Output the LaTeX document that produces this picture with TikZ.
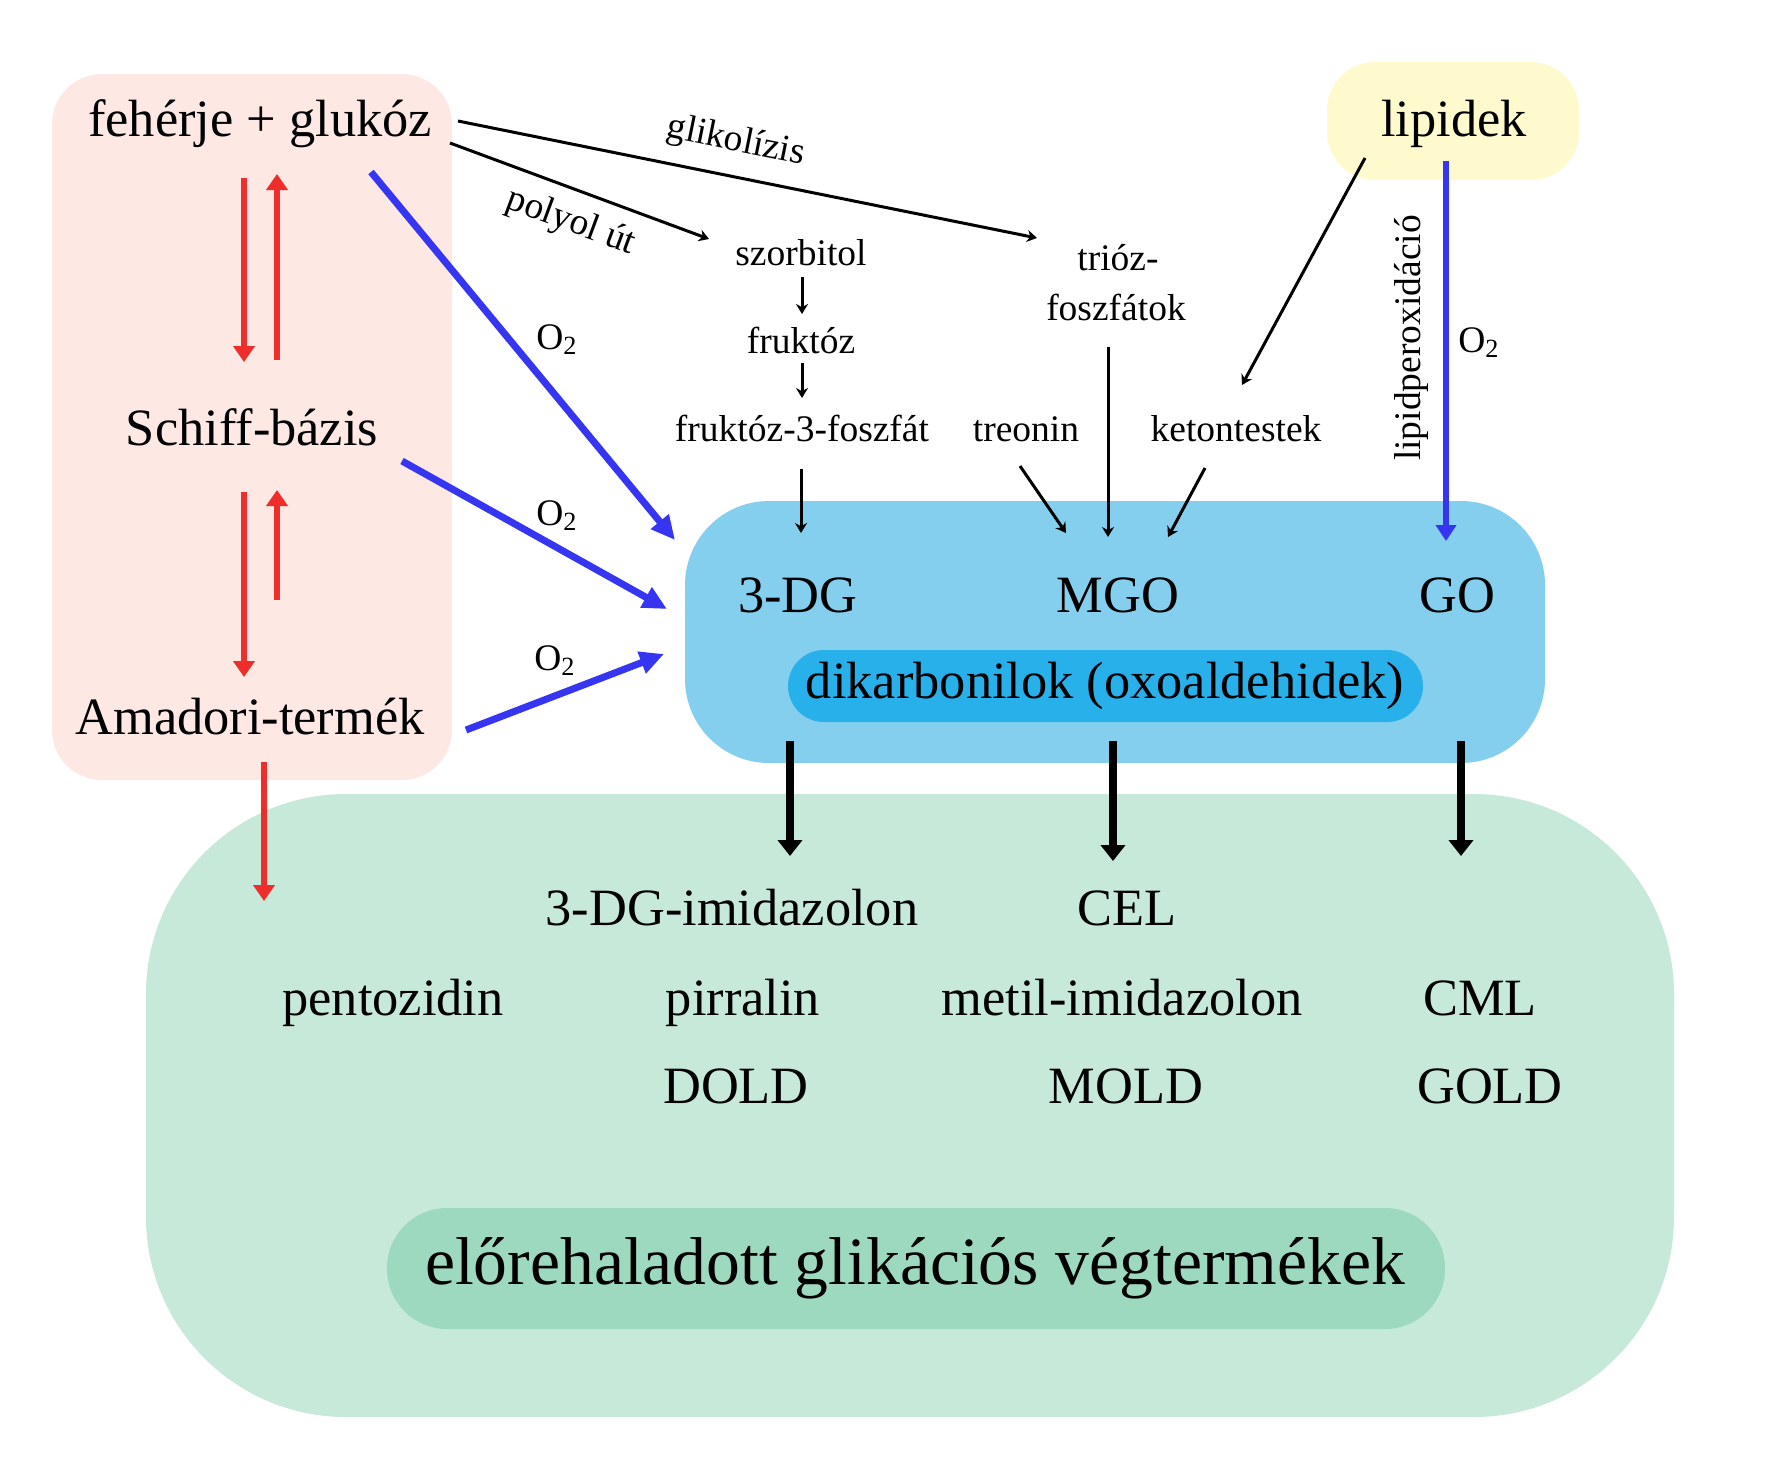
\documentclass[tikz,border=0pt]{standalone}
\usepackage{fontspec}
\setmainfont{Liberation Serif}
\usetikzlibrary{arrows.meta}
\definecolor{pinkbg}{HTML}{FDE8E3}
\definecolor{yellowbg}{HTML}{FFFACD}
\definecolor{bluebg}{HTML}{84CEEE}
\definecolor{dikbg}{HTML}{27B0EA}
\definecolor{greenbg}{HTML}{C6E9DA}
\definecolor{agebg}{HTML}{9DD9BF}
\definecolor{arred}{HTML}{EF2E2C}
\definecolor{arblue}{HTML}{3636F2}
\begin{document}
\begin{tikzpicture}[x=0.5pt,y=-0.5pt,
  box/.style={draw=none, inner sep=0pt, outer sep=0pt},
  big/.style={font=\fontsize{26.2}{30}\selectfont, anchor=base, inner sep=0pt},
  small/.style={font=\fontsize{18.75}{22}\selectfont, anchor=base, inner sep=0pt},
  lbl/.style={font=\fontsize{18.75}{22}\selectfont, inner sep=0pt},
  agefont/.style={font=\fontsize{33.8}{38}\selectfont, anchor=base, inner sep=0pt},
  redarr/.style={draw=arred, line width=3.4pt, -{Triangle[width=10.5pt,length=8pt]}},
  bluearr/.style={draw=arblue, line width=3.5pt, -{Triangle[width=11pt,length=12pt]}},
  bluevert/.style={draw=arblue, line width=3.4pt, -{Triangle[width=10pt,length=8pt]}},
  thinarr/.style={draw=black, line width=1.5pt, -{Stealth[width=6pt,length=5pt]}},
  thickarr/.style={draw=black, line width=4pt, -{Triangle[width=12pt,length=8pt]}}]
\useasboundingbox (0,0) rectangle (1772,1469);

% background boxes
\node[box, fill=pinkbg, minimum width=200pt, minimum height=353pt, rounded corners=25pt] (pinkbox) at (252,427) {};
\node[box, fill=yellowbg, minimum width=126pt, minimum height=59pt, rounded corners=24pt] (lipbox) at (1453,121) {};
\node[box, fill=greenbg, minimum width=764pt, minimum height=311.5pt, rounded corners=100pt] (greenbox) at (910,1105.5) {};
\node[box, fill=agebg, minimum width=529pt, minimum height=60.5pt, rounded corners=30pt] (agebox) at (916,1268.5) {};
\node[box, fill=bluebg, minimum width=430pt, minimum height=131pt, rounded corners=42pt] (bluebox) at (1115,632) {};
\node[box, fill=dikbg, minimum width=317.5pt, minimum height=36pt, rounded corners=18pt] (dikbox) at (1105.5,686) {};

% texts
\node[big] (fg) at (260,136) {fehérje + glukóz};
\node[big] (sb) at (252,445) {Schiff-bázis};
\node[big] (am) at (250,734) {Amadori-termék};
\node[big] (lip) at (1454,136) {lipidek};
\node[small] (szorb) at (801,265) {szorbitol};
\node[small] (fru) at (801,353) {fruktóz};
\node[small] (f3f) at (802,441) {fruktóz-3-foszfát};
\node[small] (trioz) at (1118,270) {trióz-};
\node[small] (foszf) at (1116,320) {foszfátok};
\node[small] (treo) at (1026,441) {treonin};
\node[small] (keto) at (1236,441) {ketontestek};
\node[big] (dg) at (798,612) {3-DG};
\node[big] (mgo) at (1118,612) {MGO};
\node[big] (go) at (1457,612) {GO};
\node[big] (dik) at (1105,698) {dikarbonilok (oxoaldehidek)};
\node[big] (img) at (732,925) {3-DG-imidazolon};
\node[big] (cel) at (1127,925) {CEL};
\node[big] (pen) at (393,1015) {pentozidin};
\node[big] (pir) at (743,1015) {pirralin};
\node[big] (mim) at (1122,1015) {metil-imidazolon};
\node[big] (cml) at (1480,1015) {CML};
\node[big] (dold) at (736,1103) {DOLD};
\node[big] (mold) at (1126,1103) {MOLD};
\node[big] (gold) at (1490,1103) {GOLD};
\node[agefont] (age) at (915,1284) {előrehaladott glikációs végtermékek};

\node[small, anchor=base west] (o2a) at (536,349) {O\textsubscript{2}};
\node[small, anchor=base west] (o2b) at (536,525) {O\textsubscript{2}};
\node[small, anchor=base west] (o2c) at (534,670) {O\textsubscript{2}};
\node[small, anchor=base west] (o2d) at (1458,352) {O\textsubscript{2}};
\node[lbl, rotate=90] (lpo) at (1411,338) {lipidperoxidáció};

% red arrows
\draw[redarr] ([shift={(-16,42)}]fg.base) -- ([shift={(-8,-83)}]sb.base);
\draw[redarr] ([shift={(25,-85)}]sb.base) -- ([shift={(17,38)}]fg.base);
\draw[redarr] ([shift={(-8,47)}]sb.base) -- ([shift={(-6,-57)}]am.base);
\draw[redarr] ([shift={(27,-134)}]am.base) -- ([shift={(25,45)}]sb.base);
\draw[redarr] ([shift={(14,28)}]am.base) -- ([shift={(118,107)}]greenbox.north west);

% blue arrows
\draw[bluearr] ([shift={(111,36)}]fg.base) -- ([shift={(-10,39)}]bluebox.north west);
\draw[bluearr] ([shift={(150,16)}]sb.base) -- ([shift={(-18,108)}]bluebox.north west);
\draw[bluearr] ([shift={(216,-4)}]am.base) -- ([shift={(-21,153)}]bluebox.north west);
\draw[bluevert] ([shift={(-8,25)}]lip.base) -- ([shift={(-11,-71)}]go.base);

% thin black arrows
\draw[thinarr] ([shift={(198,-15)}]fg.base) -- node[lbl, sloped, above=8pt, pos=0.468] (glik) {glikolízis} ([shift={(-81,-32)}]trioz.base);
\draw[thinarr] ([shift={(190,7)}]fg.base) -- node[lbl, sloped, below=7pt, pos=0.51] (poly) {polyol út} ([shift={(-92,-26)}]szorb.base);
\draw[thinarr] ([shift={(1,12)}]szorb.base) -- ([shift={(1,-39)}]fru.base);
\draw[thinarr] ([shift={(1,10)}]fru.base) -- ([shift={(0,-43)}]f3f.base);
\draw[thinarr] ([shift={(-1,28)}]f3f.base) -- ([shift={(3,-79)}]dg.base);
\draw[thinarr] ([shift={(-8,27)}]foszf.base) -- ([shift={(-10,-75)}]mgo.base);
\draw[thinarr] ([shift={(-89,22)}]lip.base) -- ([shift={(6,-56)}]keto.base);
\draw[thinarr] ([shift={(-6,25)}]treo.base) -- ([shift={(-52,-79)}]mgo.base);
\draw[thinarr] ([shift={(-31,27)}]keto.base) -- ([shift={(50,-75)}]mgo.base);

% thick black arrows
\draw[thickarr] ([shift={(-8,129)}]dg.base) -- ([shift={(58,-69)}]img.base);
\draw[thickarr] ([shift={(-5,129)}]mgo.base) -- ([shift={(-14,-64)}]cel.base);
\draw[thickarr] ([shift={(4,129)}]go.base) -- ([shift={(-19,-159)}]cml.base);
\end{tikzpicture}
\end{document}
